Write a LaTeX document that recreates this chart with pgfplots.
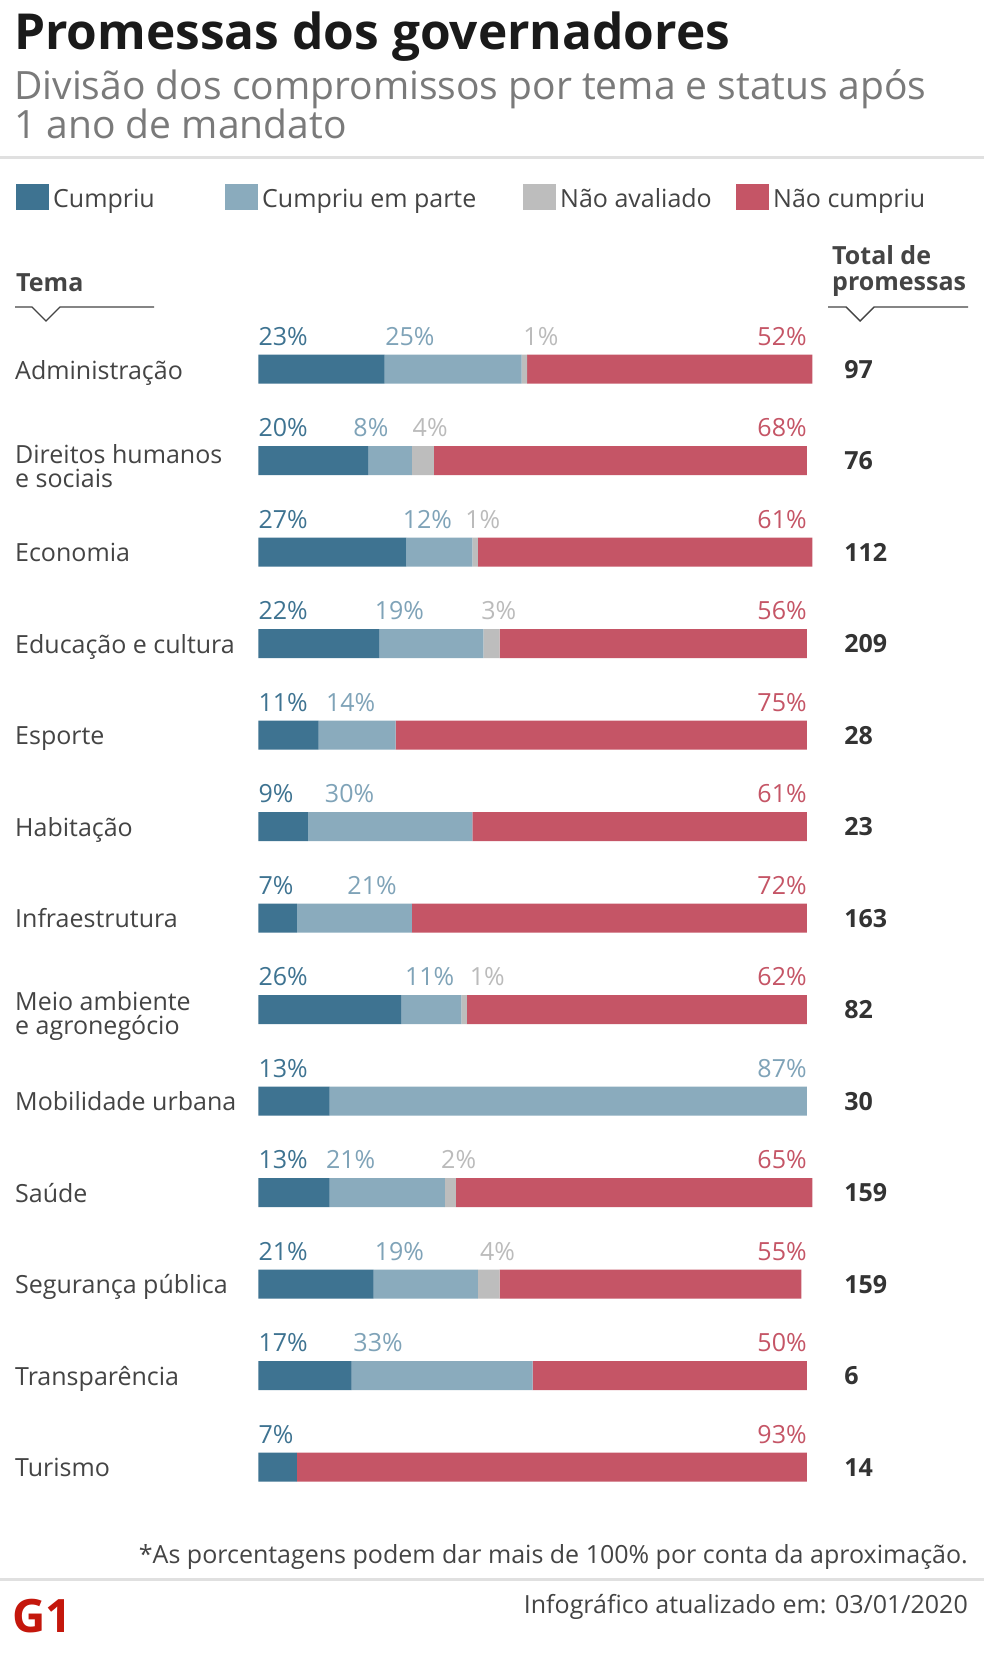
\documentclass[border=0pt]{standalone}
\usepackage{pgfplots}
\pgfplotsset{compat=1.18}
\usepackage{pgfplotstable}
\usepackage{fontspec}
\setmainfont{Open Sans}
\definecolor{cdark}{HTML}{3E7391}
\definecolor{clight}{HTML}{8AABBD}
\definecolor{cgray}{HTML}{BDBDBD}
\definecolor{cred}{HTML}{C55566}
\definecolor{tlight}{HTML}{7FA3B8}
\definecolor{tgray}{HTML}{BBBBBB}
\definecolor{ttitle}{HTML}{1A1A1A}
\definecolor{tsub}{HTML}{7A7A7A}
\definecolor{tbody}{HTML}{444444}
\definecolor{ttot}{HTML}{333333}
\definecolor{rule}{HTML}{E0E0E0}
\definecolor{gred}{HTML}{C4170C}
\newcommand{\body}{\fontsize{25}{27}\selectfont}

\pgfplotstableread{
y c p n r
369 23 25 1 52
460.5 20 8 4 68
552 27 12 1 61
643.5 22 19 3 56
735 11 14 0 75
826.5 9 30 0 61
918 7 21 0 72
1009.5 26 11 1 62
1101 13 87 0 0
1192.5 13 21 2 65
1284 21 19 4 55
1375.5 17 33 0 50
1467 7 0 0 93
}\bars

\pgfplotstableread{
y t tot
369 23 97
460.5 20 76
552 27 112
643.5 22 209
735 11 28
826.5 9 23
918 7 163
1009.5 26 82
1101 13 30
1192.5 13 159
1284 21 159
1375.5 17 6
1467 7 14
}\labc

\pgfplotstableread{
y x t
369 23.1 25
460.5 17.3 8
552 26.3 12
643.5 21.2 19
735 12.3 14
826.5 12.1 30
918 16.2 21
1009.5 26.7 11
1192.5 12.3 21
1284 21.2 19
1375.5 17.3 33
}\labp

\pgfplotstableread{
y x t
369 48.3 1
460.5 28.1 4
552 37.7 1
643.5 40.6 3
1009.5 38.5 1
1192.5 33.3 2
1284 40.4 4
}\labn

\pgfplotstableread{
y t
369 52
460.5 68
552 61
643.5 56
735 75
826.5 61
918 72
1009.5 62
1192.5 65
1284 55
1375.5 50
1467 93
}\labr

\begin{document}
\begin{tikzpicture}[x=1pt,y=1pt]
\fill[white] (0,0) rectangle (984,-1653);

% bars
\begin{axis}[at={(0,0)}, anchor=north west, width=984pt, height=1653pt,
  scale only axis, hide axis, clip=false,
  xmin=-47.12, xmax=132.31, ymin=0, ymax=1653, y dir=reverse,
  xbar stacked, bar width=29]
\addplot[fill=cdark, draw=none] table[x=c, y=y]{\bars};
\addplot[fill=clight, draw=none] table[x=p, y=y]{\bars};
\addplot[fill=cgray, draw=none] table[x=n, y=y]{\bars};
\addplot[fill=cred, draw=none] table[x=r, y=y]{\bars};
\end{axis}

% labels
\begin{axis}[at={(0,0)}, anchor=north west, width=984pt, height=1653pt,
  scale only axis, hide axis, clip=false,
  xmin=-47.12, xmax=132.31, ymin=0, ymax=1653, y dir=reverse,
  nodes near coords={\pgfplotspointmeta\%}, point meta=explicit symbolic]
\addplot[draw=none, every node near coord/.append style={anchor=base west, inner sep=0pt, text=cdark, font=\body}]
  table[x expr=0, y expr=\thisrow{y}-24, meta=t]{\labc};
\addplot[draw=none, every node near coord/.append style={anchor=base west, inner sep=0pt, text=tlight, font=\body}]
  table[x=x, y expr=\thisrow{y}-24, meta=t]{\labp};
\addplot[draw=none, every node near coord/.append style={anchor=base east, inner sep=0pt, text=tlight, font=\body}]
  coordinates {(100,1077) [87]};
\addplot[draw=none, every node near coord/.append style={anchor=base west, inner sep=0pt, text=tgray, font=\body}]
  table[x=x, y expr=\thisrow{y}-24, meta=t]{\labn};
\addplot[draw=none, every node near coord/.append style={anchor=base east, inner sep=0pt, text=cred, font=\body}]
  table[x expr=100, y expr=\thisrow{y}-24, meta=t]{\labr};
\addplot[draw=none, nodes near coords={\pgfplotspointmeta}, every node near coord/.append style={anchor=base west, inner sep=0pt, text=ttot, font=\body\bfseries}]
  table[x expr=106.8, y expr=\thisrow{y}+9, meta=tot]{\labc};
\end{axis}

% title block
\node[anchor=base west, inner sep=0pt, text=ttitle, font=\fontsize{49.6}{52}\selectfont\bfseries] at (14,-50) {Promessas dos governadores};
\node[anchor=base west, inner sep=0pt, text=tsub, font=\fontsize{39}{42}\selectfont] at (14,-100) {Divisão dos compromissos por tema e status após};
\node[anchor=base west, inner sep=0pt, text=tsub, font=\fontsize{39}{42}\selectfont] at (14,-139) {1 ano de mandato};
\fill[rule] (0,-156.5) rectangle (984,-159.5);

% legend
\fill[cdark] (16,-184) rectangle (49,-210);
\node[anchor=base west, inner sep=0pt, text=tbody, font=\body] at (53,-208) {Cumpriu};
\fill[clight] (225,-184) rectangle (258,-210);
\node[anchor=base west, inner sep=0pt, text=tbody, font=\body] at (262,-208) {Cumpriu em parte};
\fill[cgray] (523,-184) rectangle (556,-210);
\node[anchor=base west, inner sep=0pt, text=tbody, font=\body] at (560,-208) {Não avaliado};
\fill[cred] (736,-184) rectangle (769,-210);
\node[anchor=base west, inner sep=0pt, text=tbody, font=\body] at (773,-208) {Não cumpriu};

% column headers
\node[anchor=base west, inner sep=0pt, text=tbody, font=\body\bfseries] at (16,-291) {Tema};
\node[anchor=base west, inner sep=0pt, text=tbody, font=\body\bfseries] at (832,-265) {Total de};
\node[anchor=base west, inner sep=0pt, text=tbody, font=\body\bfseries] at (832,-290) {promessas};
\draw[tbody, line width=1.4pt] (15,-307) -- (32,-307) -- (46,-321) -- (60,-307) -- (154,-307);
\draw[tbody, line width=1.4pt] (828,-307) -- (846,-307) -- (860,-321) -- (874,-307) -- (968,-307);

% category labels
\begin{scope}[every node/.style={anchor=base west, inner sep=0pt, text=tbody, font=\body}]
\node at (15,-379) {Administração};
\node at (15,-463) {Direitos humanos};
\node at (15,-487) {e sociais};
\node at (15,-561) {Economia};
\node at (15,-653) {Educação e cultura};
\node at (15,-744) {Esporte};
\node at (15,-836) {Habitação};
\node at (15,-927) {Infraestrutura};
\node at (15,-1010) {Meio ambiente};
\node at (15,-1034) {e agronegócio};
\node at (15,-1110) {Mobilidade urbana};
\node at (15,-1202) {Saúde};
\node at (15,-1293) {Segurança pública};
\node at (15,-1385) {Transparência};
\node at (15,-1476) {Turismo};
\end{scope}

% footer
\node[anchor=base east, inner sep=0pt, text=tbody, font=\body] at (968,-1563) {*As porcentagens podem dar mais de 100\% por conta da aproximação.};
\fill[rule] (0,-1577.5) rectangle (984,-1580.5);
\node[anchor=base west, inner sep=0pt, text=gred, font=\fontsize{46}{46}\selectfont\bfseries] at (12,-1632) {G1};
\node[anchor=base east, inner sep=0pt, text=tbody, font=\body] at (968,-1613) {Infográfico atualizado em: 03/01/2020};
\end{tikzpicture}
\end{document}
